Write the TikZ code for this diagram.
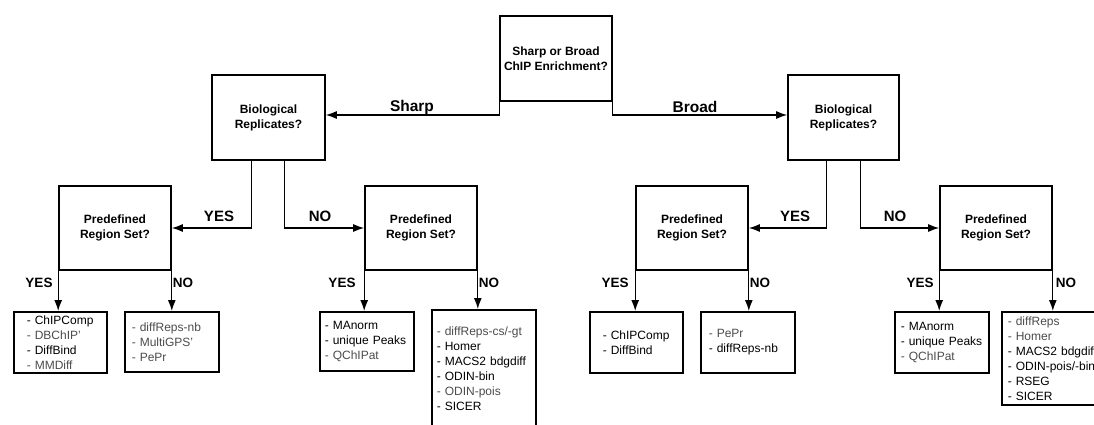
\documentclass[tikz,border=0pt]{standalone}
\usepackage{fontspec}
\setmainfont{Liberation Sans}
\usetikzlibrary{arrows.meta}
\tikzset{
  qbox/.style={draw, line width=1.6pt, align=center, inner sep=0pt,
    font=\bfseries\fontsize{12}{15}\selectfont},
  leaf/.style={draw, line width=1.6pt, align=left, anchor=north west,
    inner ysep=0pt, font=\fontsize{12}{15}\selectfont},
  conn/.style={line width=1.3pt, -{Latex[length=11pt,width=8pt]}},
  kind/.style={font=\bfseries\fontsize{15.5}{16}\selectfont, inner sep=0pt},
  branch/.style={font=\bfseries\fontsize{15}{15}\selectfont, inner sep=0pt},
  choice/.style={font=\bfseries\fontsize{13.5}{15}\selectfont, inner sep=0pt},
}
\newcommand{\lt}[1]{\textcolor{black!70}{#1}}
\begin{document}
\begin{tikzpicture}[x=1pt,y=-1pt]
\clip (0,0) rectangle (1094,425);
\fill[white] (0,0) rectangle (1094,425);

% question boxes
\node[qbox, minimum width=112pt, minimum height=85pt] (top) at (556,58.5) {Sharp or Broad\\ChIP Enrichment?};
\node[qbox, minimum width=113pt, minimum height=85pt] (bioL) at (268.5,117.5) {Biological\\Replicates?};
\node[qbox, minimum width=111pt, minimum height=85pt] (bioR) at (843.5,117.5) {Biological\\Replicates?};
\node[qbox, minimum width=112pt, minimum height=84pt] (predL) at (115,228) {Predefined\\Region Set?};
\node[qbox, minimum width=112pt, minimum height=84pt] (predM) at (421,228) {Predefined\\Region Set?};
\node[qbox, minimum width=112pt, minimum height=84pt] (predB) at (692,228) {Predefined\\Region Set?};
\node[qbox, minimum width=112pt, minimum height=84pt] (predR) at (996,228) {Predefined\\Region Set?};

% tool lists
\node[leaf, text width=67pt, inner xsep=13pt, minimum height=61pt] (leafLY) at (13,311)
  {- ChIPComp\\\lt{- DBChIP'}\\- DiffBind\\\lt{- MMDiff}};
\node[leaf, text width=80pt, inner xsep=7pt, minimum height=60pt] (leafLN) at (124,311)
  {\lt{- diffReps-nb}\\\lt{- MultiGPS'}\\\lt{- PePr}};
\node[leaf, text width=84pt, inner xsep=5pt, minimum height=59pt] (leafMY) at (319,311)
  {- MAnorm\\- unique Peaks\\\lt{- QChIPat}};
\node[leaf, text width=94pt, inner xsep=5pt, minimum height=117pt] (leafMN) at (431,309)
  {\lt{- diffReps-cs/-gt}\\- Homer\\- MACS2 bdgdiff\\- ODIN-bin\\\lt{- ODIN-pois}\\- SICER};
\node[leaf, text width=67pt, inner xsep=13pt, minimum height=61pt] (leafBY) at (589,311)
  {- ChIPComp\\- DiffBind};
\node[leaf, text width=78pt, inner xsep=8pt, minimum height=61pt] (leafBN) at (700,311)
  {\lt{- PePr}\\- diffReps-nb};
\node[leaf, text width=82pt, inner xsep=6pt, minimum height=61pt] (leafRY) at (894,311)
  {- MAnorm\\- unique Peaks\\\lt{- QChIPat}};
\node[leaf, text width=98pt, inner xsep=6pt, minimum height=93pt] (leafRN) at (1001,311)
  {\lt{- diffReps}\\\lt{- Homer}\\- MACS2 bdgdiff\\- ODIN-pois/-bin\\- RSEG\\- SICER};

% connectors
\draw[conn] (top.south west) |- ([yshift=2.5pt]bioL.east);
\draw[conn] (top.south east) |- ([yshift=2.5pt]bioR.west);
\draw[conn] ([xshift=40pt]bioL.south west) |- (predL.east);
\draw[conn] ([xshift=73pt]bioL.south west) |- (predM.west);
\draw[conn] ([xshift=39pt]bioR.south west) |- (predB.east);
\draw[conn] ([xshift=73pt]bioR.south west) |- (predR.west);
\draw[conn] (predL.south west) -- (predL.south west |- leafLY.north);
\draw[conn] (predL.south east) -- (predL.south east |- leafLN.north);
\draw[conn] (predM.south west) -- (predM.south west |- leafMY.north);
\draw[conn] (predM.south east) -- (predM.south east |- leafMN.north);
\draw[conn] (predB.south west) -- (predB.south west |- leafBY.north);
\draw[conn] (predB.south east) -- (predB.south east |- leafBN.north);
\draw[conn] (predR.south west) -- (predR.south west |- leafRY.north);
\draw[conn] (predR.south east) -- (predR.south east |- leafRN.north);

% connector labels
\node[kind] (lsharp) at (412,107) {Sharp};
\node[kind] (lbroad) at (695,107) {Broad};
\node[branch] (bLY) at (219,216) {YES};
\node[branch] (bLN) at (320,216) {NO};
\node[branch] (bRY) at (795,216) {YES};
\node[branch] (bRN) at (895,216) {NO};
\node[choice] (cLY) at (39,283) {YES};
\node[choice] (cLN) at (183,283) {NO};
\node[choice] (cMY) at (342,283) {YES};
\node[choice] (cMN) at (489,283) {NO};
\node[choice] (cBY) at (615,283) {YES};
\node[choice] (cBN) at (760,283) {NO};
\node[choice] (cRY) at (920,283) {YES};
\node[choice] (cRN) at (1066,283) {NO};
\end{tikzpicture}
\end{document}
